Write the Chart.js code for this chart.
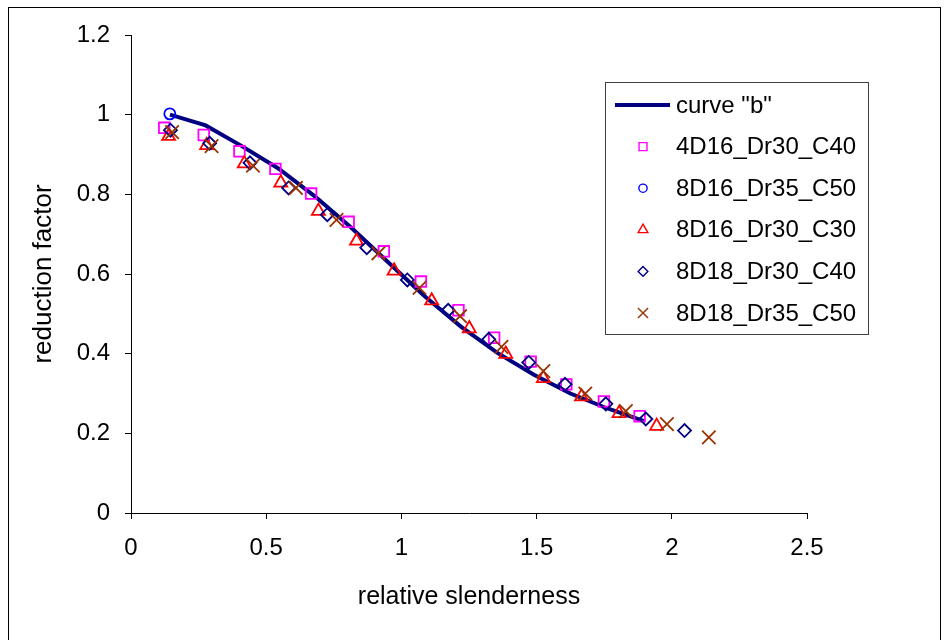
<!DOCTYPE html>
<html>
<head>
<meta charset="utf-8">
<script src="https://cdn.jsdelivr.net/npm/chart.js@4.4.1/dist/chart.umd.min.js"></script>
<style>
    html, body { margin: 0; padding: 0; background: #fff; }
    #wrap { width: 950px; height: 640px; }
</style>
</head>
<body>
<div id="wrap"><canvas id="chart" width="950" height="640"></canvas></div>
<script>
// Tick labels
const xTickLabels = ['0', '0.5', '1', '1.5', '2', '2.5'];
const yTickLabels = ['0', '0.2', '0.4', '0.6', '0.8', '1', '1.2'];

// curve "b"
const curveX = [0.144, 0.276, 0.41, 0.545, 0.68, 0.815, 0.95, 1.085, 1.22, 1.355, 1.49, 1.625, 1.76, 1.9];
const curveY = [1.0, 0.973, 0.921, 0.865, 0.795, 0.716, 0.630, 0.545, 0.468, 0.402, 0.347, 0.300, 0.263, 0.230];

// 4D16_Dr30_C40
const s1X = [0.123, 0.269, 0.401, 0.534, 0.666, 0.805, 0.935, 1.072, 1.211, 1.343, 1.478, 1.61, 1.749, 1.881];
const s1Y = [0.967, 0.949, 0.908, 0.864, 0.802, 0.731, 0.657, 0.581, 0.509, 0.440, 0.380, 0.323, 0.280, 0.243];

// 8D16_Dr35_C50
const s2X = [0.1435];
const s2Y = [1.002];

// 8D16_Dr30_C30
const s3X = [0.139, 0.28, 0.419, 0.554, 0.693, 0.834, 0.973, 1.112, 1.251, 1.386, 1.525, 1.666, 1.805, 1.944];
const s3Y = [0.946, 0.923, 0.877, 0.829, 0.758, 0.683, 0.608, 0.533, 0.463, 0.399, 0.338, 0.292, 0.250, 0.218];

// 8D18_Dr30_C40
const s4X = [0.146, 0.291, 0.44, 0.583, 0.726, 0.872, 1.022, 1.173, 1.323, 1.471, 1.605, 1.756, 1.904, 2.047];
const s4Y = [0.961, 0.928, 0.879, 0.816, 0.749, 0.666, 0.585, 0.509, 0.436, 0.378, 0.323, 0.274, 0.236, 0.207];

// 8D18_Dr35_C50
const s5X = [0.152, 0.298, 0.451, 0.61, 0.76, 0.915, 1.067, 1.217, 1.37, 1.525, 1.68, 1.83, 1.982, 2.137];
const s5Y = [0.956, 0.921, 0.872, 0.816, 0.736, 0.652, 0.565, 0.494, 0.417, 0.356, 0.300, 0.256, 0.223, 0.190];

const FONT = "'Liberation Sans', Arial, sans-serif";

function pts(xs, ys) {
    return xs.map((x, i) => ({ x: x, y: ys[i] }));
}

function markerSet(label, xs, ys, color, style, radius, order) {
    return {
        label: label,
        data: pts(xs, ys),
        showLine: false,
        pointStyle: style,
        pointRadius: radius,
        pointHoverRadius: radius,
        pointBorderColor: color,
        pointBackgroundColor: 'rgba(0,0,0,0)',
        pointBorderWidth: 1.8,
        borderColor: color,
        backgroundColor: 'rgba(0,0,0,0)',
        order: order
    };
}

const datasets = [
    {
        label: 'curve "b"',
        data: pts(curveX, curveY),
        showLine: true,
        borderColor: '#000080',
        borderWidth: 4,
        pointRadius: 0,
        tension: 0,
        order: 10
    },
    markerSet('4D16_Dr30_C40', s1X, s1Y, '#ff00ff', 'rect', 7.5, 5),
    markerSet('8D16_Dr35_C50', s2X, s2Y, '#0000ff', 'circle', 5.5, 4),
    markerSet('8D16_Dr30_C30', s3X, s3Y, '#ff0000', 'triangle', 7.5, 3),
    markerSet('8D18_Dr30_C40', s4X, s4Y, '#000080', 'rectRot', 6.5, 2),
    markerSet('8D18_Dr35_C50', s5X, s5Y, '#993300', 'crossRot', 9.5, 1)
];

// frame + legend box drawn by hand, like the original
const boxLegend = {
    id: 'boxLegend',
    afterDraw(chart) {
        const ctx = chart.ctx;
        ctx.save();
        ctx.strokeStyle = '#000';
        ctx.lineWidth = 1;
        ctx.strokeRect(8.5, 7.5, 932, 660);

        ctx.strokeStyle = '#404040';
        ctx.strokeRect(605.5, 82.5, 263, 252);

        ctx.font = '24px ' + FONT;
        ctx.textBaseline = 'middle';
        ctx.textAlign = 'left';
        chart.data.datasets.forEach((ds, i) => {
            const y = 105 + i * 41.6;
            if (ds.showLine) {
                ctx.strokeStyle = ds.borderColor;
                ctx.lineWidth = 4;
                ctx.beginPath();
                ctx.moveTo(615, y);
                ctx.lineTo(670, y);
                ctx.stroke();
            } else {
                ctx.strokeStyle = ds.pointBorderColor;
                ctx.fillStyle = 'rgba(0,0,0,0)';
                ctx.lineWidth = 1.4;
                Chart.helpers.drawPoint(ctx, {
                    pointStyle: ds.pointStyle,
                    radius: ds.pointRadius * 0.75,
                    rotation: 0,
                    borderWidth: 1.4
                }, 643, y);
            }
            ctx.fillStyle = '#000';
            ctx.fillText(ds.label, 676, y + 1);
        });
        ctx.restore();
    }
};

new Chart(document.getElementById('chart').getContext('2d'), {
    type: 'scatter',
    data: { datasets: datasets },
    options: {
        responsive: false,
        animation: false,
        devicePixelRatio: 1,
        layout: { padding: { top: 35, right: 143, left: 0, bottom: 0 } },
        plugins: {
            legend: { display: false },
            tooltip: { enabled: false }
        },
        scales: {
            x: {
                type: 'linear',
                min: 0,
                max: 2.5,
                afterFit: s => { s.height = 127; },
                ticks: {
                    stepSize: 0.5,
                    color: '#000',
                    padding: 15,
                    font: { family: FONT, size: 24 },
                    callback: v => xTickLabels[Math.round(v / 0.5)]
                },
                grid: { drawOnChartArea: false, drawTicks: true, tickLength: 6, color: '#000' },
                border: { display: true, color: '#000', width: 1 },
                title: {
                    display: true,
                    text: 'relative slenderness',
                    color: '#000',
                    font: { family: FONT, size: 25 },
                    padding: { top: 0, bottom: 28 }
                }
            },
            y: {
                type: 'linear',
                min: 0,
                max: 1.2,
                afterFit: s => { s.width = 131; },
                ticks: {
                    stepSize: 0.2,
                    color: '#000',
                    padding: 15,
                    font: { family: FONT, size: 24 },
                    callback: v => yTickLabels[Math.round(v / 0.2)]
                },
                grid: { drawOnChartArea: false, drawTicks: true, tickLength: 6, color: '#000' },
                border: { display: true, color: '#000', width: 1 },
                title: {
                    display: true,
                    text: 'reduction factor',
                    color: '#000',
                    font: { family: FONT, size: 26 },
                    padding: { top: 28, bottom: 0 }
                }
            }
        }
    },
    plugins: [boxLegend]
});
</script>
</body>
</html>
